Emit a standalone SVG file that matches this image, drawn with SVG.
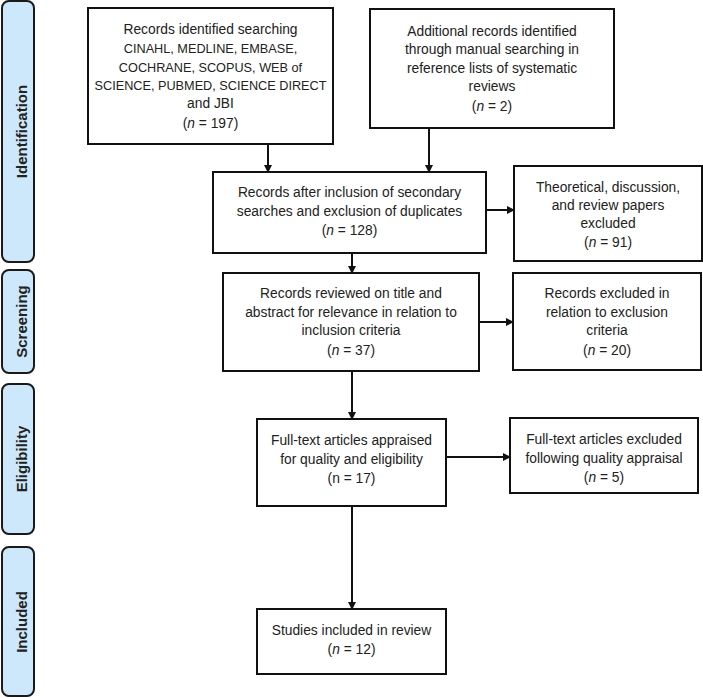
<svg xmlns="http://www.w3.org/2000/svg" width="703" height="698" viewBox="0 0 703 698">
<style>
.bar{fill:#cde8fb;stroke:#1a1a1a;stroke-width:2}
.box{fill:#ffffff;stroke:#111;stroke-width:2}
.lbl{font-family:"Liberation Sans",Arial,sans-serif;font-weight:bold;font-size:15px;fill:#222;text-anchor:middle}
.t{font-family:"Liberation Sans",Arial,sans-serif;font-size:13.8px;fill:#222;text-anchor:middle}
.u{font-size:12.7px}
.c{stroke:#111;stroke-width:2;fill:none}
</style>
<defs>
<marker id="ah" markerWidth="8" markerHeight="8" refX="7" refY="4" orient="auto" markerUnits="userSpaceOnUse">
<path d="M0,0 L8,4 L0,8 Z" fill="#111"/>
</marker>
</defs>
<rect width="703" height="698" fill="#ffffff"/>
<g id="phase-identification"><rect class="bar" x="2" y="1" width="32" height="261" rx="7"/><text class="lbl" transform="translate(26.5,131.5) rotate(-90)">Identification</text></g>
<g id="phase-screening"><rect class="bar" x="2" y="270" width="32" height="103" rx="7"/><text class="lbl" transform="translate(26.5,321.5) rotate(-90)">Screening</text></g>
<g id="phase-eligibility"><rect class="bar" x="2" y="384" width="32" height="150" rx="7"/><text class="lbl" transform="translate(26.5,459) rotate(-90)">Eligibility</text></g>
<g id="phase-included"><rect class="bar" x="2" y="547" width="32" height="149" rx="7"/><text class="lbl" transform="translate(26.5,622) rotate(-90)">Included</text></g>

<g id="connectors">
<line class="c" x1="268" y1="144" x2="268" y2="172" marker-end="url(#ah)"/>
<line class="c" x1="429" y1="128" x2="429" y2="172" marker-end="url(#ah)"/>
<line class="c" x1="486" y1="210" x2="514" y2="210" marker-end="url(#ah)"/>
<line class="c" x1="352" y1="253" x2="352" y2="273" marker-end="url(#ah)"/>
<line class="c" x1="479" y1="322" x2="513" y2="322" marker-end="url(#ah)"/>
<line class="c" x1="352" y1="371" x2="352" y2="419" marker-end="url(#ah)"/>
<line class="c" x1="446" y1="457" x2="510" y2="457" marker-end="url(#ah)"/>
<line class="c" x1="352" y1="506" x2="352" y2="609" marker-end="url(#ah)"/>
</g>

<g id="records-identified"><rect class="box" x="88" y="8" width="245" height="136"/>
<text class="t" x="210.5" y="34">Records identified searching</text>
<text class="t u" x="210.5" y="53">CINAHL, MEDLINE, EMBASE,</text>
<text class="t u" x="210.5" y="71.5">COCHRANE, SCOPUS, WEB of</text>
<text class="t u" x="210.5" y="90">SCIENCE, PUBMED, SCIENCE DIRECT</text>
<text class="t" x="210.5" y="108">and JBI</text>
<text class="t" x="210.5" y="127.5">(<tspan font-style="italic">n</tspan> = 197)</text>
</g>
<g id="additional-records"><rect class="box" x="370" y="9" width="244" height="119"/>
<text class="t" x="492" y="35.5">Additional records identified</text>
<text class="t" x="492" y="54">through manual searching in</text>
<text class="t" x="492" y="72.5">reference lists of systematic</text>
<text class="t" x="492" y="91">reviews</text>
<text class="t" x="492" y="111">(<tspan font-style="italic">n</tspan> = 2)</text>
</g>
<g id="records-after"><rect class="box" x="213" y="172" width="273" height="81"/>
<text class="t" x="349.5" y="197">Records after inclusion of secondary</text>
<text class="t" x="349.5" y="215.5">searches and exclusion of duplicates</text>
<text class="t" x="349.5" y="234.5">(<tspan font-style="italic">n</tspan> = 128)</text>
</g>
<g id="theoretical-excluded"><rect class="box" x="514" y="166" width="188" height="95"/>
<text class="t" x="608" y="191.5">Theoretical, discussion,</text>
<text class="t" x="608" y="209.5">and review papers</text>
<text class="t" x="608" y="228">excluded</text>
<text class="t" x="608" y="247">(<tspan font-style="italic">n</tspan> = 91)</text>
</g>
<g id="records-reviewed"><rect class="box" x="223" y="273" width="256" height="98"/>
<text class="t" x="351" y="298">Records reviewed on title and</text>
<text class="t" x="351" y="316.5">abstract for relevance in relation to</text>
<text class="t" x="351" y="335">inclusion criteria</text>
<text class="t" x="351" y="354.5">(<tspan font-style="italic">n</tspan> = 37)</text>
</g>
<g id="records-excluded"><rect class="box" x="513" y="273" width="188" height="97"/>
<text class="t" x="607" y="298">Records excluded in</text>
<text class="t" x="607" y="316.5">relation to exclusion</text>
<text class="t" x="607" y="335">criteria</text>
<text class="t" x="607" y="354.5">(<tspan font-style="italic">n</tspan> = 20)</text>
</g>
<g id="fulltext-appraised"><rect class="box" x="257" y="419" width="189" height="87"/>
<text class="t" x="351.5" y="445">Full-text articles appraised</text>
<text class="t" x="351.5" y="463.5">for quality and eligibility</text>
<text class="t" x="351.5" y="482.5">(n = 17)</text>
</g>
<g id="fulltext-excluded"><rect class="box" x="510" y="418" width="188" height="75"/>
<text class="t" x="604" y="444">Full-text articles excluded</text>
<text class="t" x="604" y="463">following quality appraisal</text>
<text class="t" x="604" y="482">(<tspan font-style="italic">n</tspan> = 5)</text>
</g>
<g id="studies-included"><rect class="box" x="257" y="609" width="189" height="65"/>
<text class="t" x="351.5" y="635">Studies included in review</text>
<text class="t" x="351.5" y="654">(<tspan font-style="italic">n</tspan> = 12)</text>
</g>
</svg>
